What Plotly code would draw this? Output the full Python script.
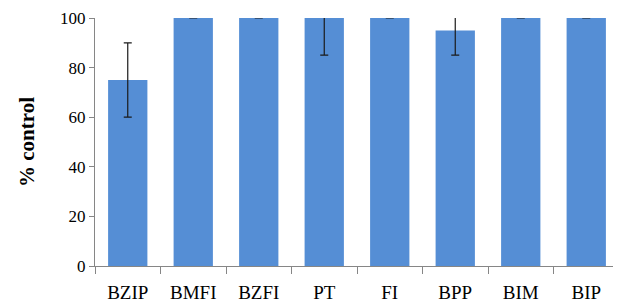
import plotly.graph_objects as go

categories = ["BZIP", "BMFI", "BZFI", "PT", "FI", "BPP", "BIM", "BIP"]
values = [75, 100, 100, 100, 100, 95, 100, 100]
err_plus = [15, 0, 0, 15, 0, 10, 0, 0]
err_minus = [15, 0, 0, 15, 0, 10, 0, 0]
y_ticks = [0, 20, 40, 60, 80, 100]

fig = go.Figure(go.Bar(
    x=categories, y=values,
    marker=dict(color="#558ED5", line=dict(width=0)),
    width=0.6,
    error_y=dict(type="data", array=err_plus, arrayminus=err_minus,
                 color="#1a1a1a", thickness=1.2, width=4, symmetric=False),
    cliponaxis=True,
))

font_family = "Liberation Serif"
# page body has an 8px default margin, so the figure is offset by 8px
fig.update_layout(
    width=613, height=299,
    margin=dict(l=87, r=2, t=10, b=41),
    paper_bgcolor="white", plot_bgcolor="white",
    showlegend=False,
    font=dict(family=font_family, size=17, color="black"),
    bargap=0.4,
)
fig.update_xaxes(
    showline=True, linecolor="#868686", linewidth=1,
    ticks="outside", tickson="boundaries", ticklen=7, tickcolor="#868686",
    tickfont=dict(family=font_family, size=19), showgrid=False,
    ticklabelstandoff=9,
)
fig.update_yaxes(
    range=[0, 100], tickvals=y_ticks,
    showline=True, linecolor="#868686", linewidth=1,
    ticks="outside", ticklen=5, tickcolor="#868686",
    tickfont=dict(family=font_family, size=17), showgrid=False, zeroline=False,
    title=dict(text="<b>% control</b>", font=dict(family=font_family, size=21), standoff=19),
)
fig.write_html("out.html")
